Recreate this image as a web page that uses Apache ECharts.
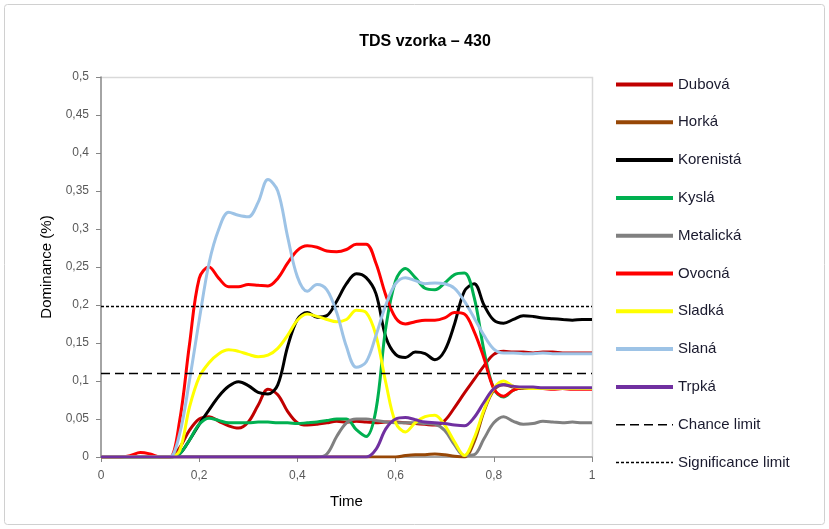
<!DOCTYPE html>
<html><head><meta charset="utf-8">
<script src="https://cdn.jsdelivr.net/npm/echarts@6/dist/echarts.min.js"></script>
<style>html,body{margin:0;padding:0;background:#fff}#c{width:829px;height:529px}</style>
</head><body><div id="c"></div>
<script>
const time = [0,0.02,0.04,0.06,0.08,0.1,0.12,0.14,0.16,0.18,0.2,0.22,0.24,0.26,0.28,0.3,0.32,0.34,0.36,0.38,0.4,0.42,0.44,0.46,0.48,0.5,0.52,0.54,0.56,0.58,0.6,0.62,0.64,0.66,0.68,0.7,0.72,0.74,0.76,0.78,0.8,0.82,0.84,0.86,0.88,0.9,0.92,0.94,0.96,0.98,1];
const dubova = [0,0,0,0,0,0,0,0,0.012,0.035,0.05,0.053,0.047,0.041,0.038,0.046,0.068,0.089,0.082,0.06,0.045,0.042,0.043,0.045,0.047,0.046,0.047,0.046,0.045,0.046,0.046,0.045,0.044,0.043,0.042,0.048,0.065,0.084,0.102,0.12,0.135,0.139,0.138,0.138,0.137,0.138,0.138,0.137,0.137,0.137,0.137];
const horka = [0,0,0,0,0,0,0,0,0,0,0,0,0,0,0,0,0,0,0,0,0,0,0,0,0,0,0,0,0,0,0,0.002,0.003,0.003,0.004,0.003,0.001,0,0.02,0.06,0.088,0.095,0.092,0.09,0.09,0.09,0.09,0.09,0.09,0.09,0.09];
const korenista = [0,0,0,0,0,0,0,0,0.004,0.022,0.043,0.062,0.08,0.093,0.099,0.094,0.085,0.083,0.095,0.145,0.181,0.19,0.184,0.186,0.205,0.228,0.241,0.236,0.215,0.158,0.135,0.131,0.138,0.136,0.128,0.14,0.175,0.218,0.228,0.2,0.18,0.176,0.181,0.186,0.185,0.183,0.182,0.181,0.18,0.181,0.181];
const kysla = [0,0,0,0,0,0,0,0,0.004,0.022,0.043,0.051,0.048,0.045,0.045,0.045,0.046,0.046,0.045,0.045,0.044,0.045,0.046,0.048,0.05,0.05,0.036,0.027,0.062,0.17,0.232,0.248,0.236,0.222,0.22,0.229,0.24,0.242,0.21,0.14,0.09,0.079,0.088,0.091,0.09,0.09,0.09,0.09,0.09,0.09,0.09];
const metalicka = [0,0,0,0,0,0,0,0,0,0,0,0,0,0,0,0,0,0,0,0,0,0,0,0.004,0.027,0.045,0.05,0.05,0.048,0.046,0.045,0.045,0.045,0.044,0.043,0.035,0.016,0.002,0.003,0.024,0.045,0.053,0.047,0.043,0.044,0.047,0.046,0.045,0.046,0.045,0.045];
const ovocna = [0,0,0,0.002,0.006,0.004,0,0,0.047,0.147,0.235,0.25,0.235,0.224,0.224,0.227,0.226,0.225,0.235,0.255,0.272,0.278,0.276,0.271,0.27,0.273,0.28,0.28,0.255,0.213,0.183,0.175,0.178,0.18,0.18,0.183,0.19,0.188,0.165,0.13,0.09,0.08,0.088,0.091,0.09,0.09,0.089,0.09,0.089,0.089,0.089];
const sladka = [0,0,0,0,0,0,0,0,0.008,0.065,0.105,0.124,0.136,0.141,0.139,0.135,0.132,0.134,0.143,0.16,0.18,0.188,0.185,0.181,0.178,0.181,0.193,0.19,0.16,0.098,0.045,0.033,0.045,0.053,0.055,0.042,0.02,0.002,0.025,0.062,0.09,0.1,0.093,0.091,0.09,0.09,0.09,0.09,0.09,0.09,0.09];
const slana = [0,0,0,0,0,0,0,0,0.03,0.1,0.18,0.255,0.3,0.322,0.318,0.316,0.335,0.365,0.35,0.29,0.237,0.218,0.227,0.22,0.19,0.145,0.118,0.125,0.16,0.2,0.228,0.236,0.232,0.228,0.229,0.228,0.222,0.205,0.183,0.16,0.142,0.137,0.137,0.136,0.136,0.137,0.136,0.136,0.136,0.136,0.136];
const trpka = [0,0,0,0,0,0,0,0,0,0,0,0,0,0,0,0,0,0,0,0,0,0,0,0,0,0,0,0,0.01,0.037,0.05,0.052,0.049,0.046,0.045,0.044,0.042,0.041,0.052,0.072,0.09,0.095,0.093,0.092,0.092,0.091,0.091,0.091,0.091,0.091,0.091];
const chanceLimit = 0.11;
const significanceLimit = 0.198;
const xRange = [0, 1];

const FONT = '"Liberation Sans",Arial,sans-serif';
const series = [
  ['Dubová', dubova, '#C00000'],
  ['Horká', horka, '#974706'],
  ['Korenistá', korenista, '#000000'],
  ['Kyslá', kysla, '#00B050'],
  ['Metalická', metalicka, '#808080'],
  ['Ovocná', ovocna, '#FF0000'],
  ['Sladká', sladka, '#FFFF00'],
  ['Slaná', slana, '#9DC3E6'],
  ['Trpká', trpka, '#7030A0']
].map(([name, vals, color]) => ({
  name, type: 'line', smooth: 0.35, symbol: 'none', animation: false,
  data: time.map((t, i) => [t, vals[i]]),
  lineStyle: { color, width: 3 }, itemStyle: { color }
}));
series.push({
  name: 'Chance limit', type: 'line', symbol: 'none', animation: false,
  data: xRange.map(t => [t, chanceLimit]),
  lineStyle: { color: '#000', width: 1.5, type: [9, 5] }, itemStyle: { color: '#000' }
});
series.push({
  name: 'Significance limit', type: 'line', symbol: 'none', animation: false,
  data: xRange.map(t => [t, significanceLimit]),
  lineStyle: { color: '#000', width: 1.5, type: [3, 2] }, itemStyle: { color: '#000' }
});

const comma = v => String(+v.toFixed(2)).replace('.', ',');
const chart = echarts.init(document.getElementById('c'), null, { renderer: 'canvas' });
chart.setOption({
  animation: false,
  backgroundColor: '#fff',
  title: {
    text: 'TDS vzorka – 430', left: 420, top: 29, textAlign: 'center',
    textStyle: { fontFamily: FONT, fontSize: 16, fontWeight: 'bold', color: '#000' }
  },
  graphic: [{
    type: 'rect', shape: { x: 4.5, y: 4.5, width: 820, height: 520, r: 3 },
    style: { fill: null, stroke: '#d0d0d0', lineWidth: 1 }, silent: true
  }, {
    type: 'polyline', shape: { points: [[101, 77.5], [592.5, 77.5], [592.5, 457]] },
    style: { fill: null, stroke: '#d9d9d9', lineWidth: 1.5 }, silent: true
  }],
  grid: { left: 101, right: 237, top: 77, bottom: 72, containLabel: false },
  legend: {
    orient: 'vertical', left: 609, top: 72, itemWidth: 57, itemHeight: 14, itemGap: 22.8,
    itemStyle: { opacity: 0 },
    textStyle: { fontFamily: FONT, fontSize: 15, color: '#1a1a2e', lineHeight: 14 },
    data: series.map((s, i) => ({ name: s.name, lineStyle: { width: i < 9 ? 4 : 1.5 } }))
  },
  xAxis: {
    type: 'value', min: 0, max: 1, interval: 0.2,
    name: 'Time', nameLocation: 'middle', nameGap: 37,
    nameTextStyle: { fontFamily: FONT, fontSize: 15, color: '#000' },
    axisLine: { show: true, lineStyle: { color: '#868686', width: 1.5 } },
    axisTick: { show: true, length: 5, lineStyle: { color: '#868686' } },
    axisLabel: { formatter: comma, fontFamily: FONT, fontSize: 12, color: '#595959', margin: 13 },
    splitLine: { show: false }
  },
  yAxis: {
    type: 'value', min: 0, max: 0.5, interval: 0.05,
    name: 'Dominance (%)', nameLocation: 'middle', nameGap: 47, nameRotate: 90,
    nameTextStyle: { fontFamily: FONT, fontSize: 15, color: '#000' },
    axisLine: { show: true, lineStyle: { color: '#868686', width: 1.5 } },
    axisTick: { show: true, length: 5, lineStyle: { color: '#868686' } },
    axisLabel: { formatter: comma, fontFamily: FONT, fontSize: 12, color: '#595959', margin: 12 },
    splitLine: { show: false }
  },
  series
});
</script></body></html>
